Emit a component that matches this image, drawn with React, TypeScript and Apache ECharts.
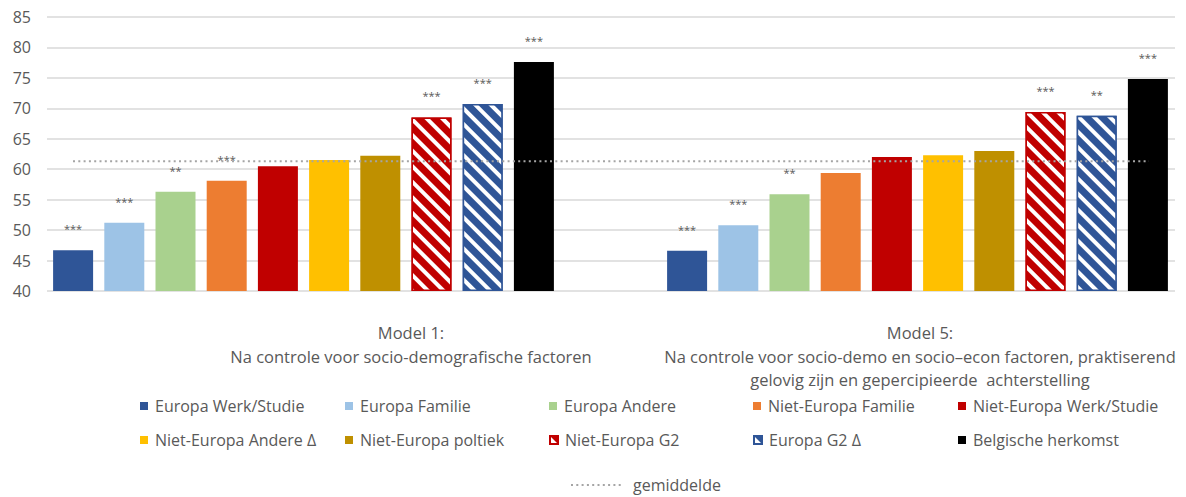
import React, { useEffect, useRef } from "react";
import * as echarts from "echarts";

const categories = [
  "Model 1:\nNa controle voor socio-demografische factoren",
  "Model 5:\nNa controle voor socio-demo en socio–econ factoren, praktiserend\ngelovig zijn en gepercipieerde  achterstelling",
];

const seriesNames = [
  "Europa Werk/Studie",
  "Europa Familie",
  "Europa Andere",
  "Niet-Europa Familie",
  "Niet-Europa Werk/Studie",
  "Niet-Europa Andere Δ",
  "Niet-Europa poltiek",
  "Niet-Europa G2",
  "Europa G2 Δ",
  "Belgische herkomst",
];

const model1Values = [46.7, 51.2, 56.3, 58.1, 60.5, 61.5, 62.2, 68.5, 70.7, 77.6];
const model5Values = [46.6, 50.8, 55.9, 59.4, 62.0, 62.3, 63.0, 69.4, 68.8, 74.8];

const model1Stars = ["***", "***", "**", "***", "", "", "", "***", "***", "***"];
const model5Stars = ["***", "***", "**", "", "", "", "", "***", "**", "***"];

const averageName = "gemiddelde";
const averageValues = [61.3, 61.3];

const yMin = 40;
const yMax = 85;
const yInterval = 5;

const seriesColors = [
  "#2F5597",
  "#9DC3E6",
  "#A9D18E",
  "#ED7D31",
  "#C00000",
  "#FFC000",
  "#BF9000",
  "#C00000",
  "#2F5597",
  "#000000",
];
const hatched = [false, false, false, false, false, false, false, true, true, false];

const FONT = "Open Sans";
const TEXT_COLOR = "#595959";

export default function App() {
  const ref = useRef<HTMLDivElement>(null);

  useEffect(() => {
    document.body.style.margin = "0";
    if (!ref.current) return;
    const chart = echarts.init(ref.current, undefined, { renderer: "svg" });

    const barSeries = seriesNames.map((name, i) => {
      const itemStyle: any = { color: seriesColors[i] };
      if (hatched[i]) {
        itemStyle.borderColor = seriesColors[i];
        itemStyle.borderWidth = 1.5;
        itemStyle.decal = {
          symbol: "rect",
          symbolSize: 1,
          dashArrayX: [1, 0],
          dashArrayY: [4, 6.5],
          rotation: Math.PI / 4,
          color: "#ffffff",
        };
      }
      return {
        name,
        type: "bar",
        xAxisIndex: 1,
        yAxisIndex: 1,
        barWidth: 40,
        barGap: "28%",
        clip: false,
        data: [model1Values[i], model5Values[i]],
        itemStyle,
        label: {
          show: true,
          position: "top",
          distance: 16,
          color: TEXT_COLOR,
          fontSize: 11,
          fontFamily: FONT,
          formatter: (p: any) => (p.dataIndex === 0 ? model1Stars[i] : model5Stars[i]),
        },
      };
    });

    const colLeft = [140, 345, 549, 753, 958];
    const rowTop = [398, 432];
    const legends: any[] = seriesNames.map((name, i) => ({
      data: [name],
      left: colLeft[i % 5],
      top: rowTop[Math.floor(i / 5)],
      padding: 0,
      icon: "rect",
      itemWidth: 8,
      itemHeight: 8,
      textStyle: { color: TEXT_COLOR, fontSize: 16, fontFamily: FONT, padding: [0, 0, 0, 2] },
    }));
    legends.push({
      data: [averageName],
      left: 570,
      top: 477,
      padding: 0,
      itemWidth: 50,
      itemHeight: 10,
      itemStyle: { opacity: 0 },
      textStyle: { color: TEXT_COLOR, fontSize: 16, fontFamily: FONT, padding: [0, 0, 0, 7] },
    });

    const option: any = {
      animation: false,
      backgroundColor: "#ffffff",
      textStyle: { fontFamily: FONT },
      grid: [
        { left: 47, right: 11, top: 17, bottom: 206 },
        { left: 303.5, width: 614, top: 17, bottom: 206 },
        { left: 73, width: 1076, top: 17, bottom: 206 },
      ],
      xAxis: [
        { type: "category", gridIndex: 0, data: categories, show: false },
        { type: "category", gridIndex: 1, data: categories, show: false, boundaryGap: false },
        { type: "category", gridIndex: 2, data: categories, show: false, boundaryGap: false },
      ],
      yAxis: [
        {
          type: "value",
          gridIndex: 0,
          min: yMin,
          max: yMax,
          interval: yInterval,
          axisLine: { show: false },
          axisTick: { show: false },
          axisLabel: { color: TEXT_COLOR, fontSize: 16, fontFamily: FONT, margin: 16 },
          splitLine: { lineStyle: { color: "#D9D9D9", width: 1.5 } },
        },
        {
          type: "value",
          gridIndex: 1,
          min: yMin,
          max: yMax,
          startValue: yMin,
          interval: yInterval,
          show: false,
          splitLine: { show: false },
        },
        { type: "value", gridIndex: 2, min: yMin, max: yMax, interval: yInterval, show: false, splitLine: { show: false } },
      ],
      legend: legends,
      graphic: [
        {
          type: "text",
          x: 411,
          y: 321,
          style: {
            text: categories[0],
            align: "center",
            verticalAlign: "top",
            fill: TEXT_COLOR,
            fontSize: 16.5,
            fontFamily: FONT,
            lineHeight: 23.5,
          },
        },
        {
          type: "text",
          x: 920,
          y: 321,
          style: {
            text: categories[1],
            align: "center",
            verticalAlign: "top",
            fill: TEXT_COLOR,
            fontSize: 16.5,
            fontFamily: FONT,
            lineHeight: 23.5,
          },
        },
      ],
      series: [
        ...barSeries,
        {
          name: averageName,
          type: "line",
          xAxisIndex: 2,
          yAxisIndex: 2,
          data: averageValues,
          symbol: "none",
          lineStyle: { color: "#A5A5A5", width: 2, type: [2, 3.3] },
          itemStyle: { color: "#A5A5A5" },
          z: 5,
        },
      ],
    };

    chart.setOption(option);
    return () => chart.dispose();
  }, []);

  return <div ref={ref} style={{ width: 1186, height: 497 }} />;
}
